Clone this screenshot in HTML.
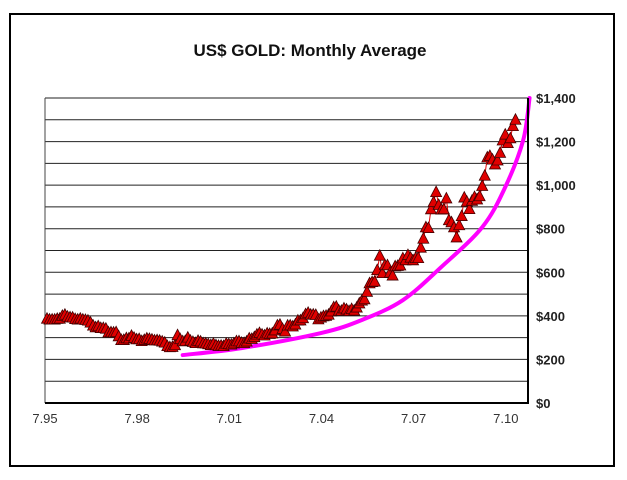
<!DOCTYPE html>
<html><head><meta charset="utf-8"><style>
body{margin:0;background:#fff;width:627px;height:480px;overflow:hidden;font-family:"Liberation Sans",Arial,sans-serif}
svg{display:block}
</style></head><body>
<svg width="627" height="480" xmlns="http://www.w3.org/2000/svg">
<rect x="10" y="14" width="604" height="452" fill="#fff" stroke="#000" stroke-width="2"/>
<text x="310" y="56" text-anchor="middle" font-size="17" font-weight="bold" fill="#111">US$ GOLD: Monthly Average</text>
<g id="grid"></g><g id="curve"></g><g id="series"></g><g id="axes"></g>
</svg>
<script>
const prices = [387,383,383,383,386,387,
400,405,396,393,392,385,383,387,383,381,378,369,
355,347,352,344,344,341,324,324,323,325,306,289,
289,297,296,308,299,292,293,284,289,296,294,291,
287,288,286,282,277,261,256,257,265,311,293,283,
284,300,286,280,275,285,282,274,273,270,266,272,
265,262,263,261,272,270,268,273,283,283,276,275,
282,296,294,302,314,321,314,310,319,317,319,333,
356,359,340,328,355,356,351,360,378,379,389,407,
414,405,406,404,384,392,398,400,405,420,439,442,
424,423,434,429,422,431,424,438,457,470,476,510,
549,555,557,610,676,596,633,632,598,585,627,629,
631,664,655,679,667,655,665,665,713,754,806,803,
889,922,968,909,888,889,939,839,829,806,760,816,
858,943,924,890,928,945,934,949,996,1043,1127,1134,
1117,1095,1113,1148,1205,1232,1193,1215,1271,1300];
const trendIdx = [53,76,107,123,139,154,170,179,186,188.5];
const trendVal = [220,252,321,381,472,624,807,991,1206,1400];
const xTickLabels = ["7.95","7.98","7.01","7.04","7.07","7.10"];
const yTicks = [0,200,400,600,800,1000,1200,1400];
const L=45,R=528,T=98,B=403,YMAX=1400,MW=2.56;
const xs=i=>L+2+i*MW, ys=v=>B-(v/YMAX)*(B-T);
const NS="http://www.w3.org/2000/svg";
function mk(tag,p,parent){const e=document.createElementNS(NS,tag);for(const k in p)e.setAttribute(k,p[k]);document.getElementById(parent).appendChild(e);return e;}
for(let v=100;v<=YMAX;v+=100){const g=mk('line',{x1:L,x2:R,y1:ys(v),y2:ys(v),stroke:'#222','stroke-width':1},'grid');

}
const lb=mk('line',{x1:L,x2:L,y1:T,y2:B,stroke:'#444','stroke-width':1},'grid');


const xa=mk('line',{x1:L,x2:R+1,y1:B,y2:B,stroke:'#000','stroke-width':2},'axes');


const ya=mk('line',{x1:R,x2:R,y1:T,y2:B+1,stroke:'#000','stroke-width':2},'axes');


yTicks.forEach(v=>{const t=mk('text',{x:R+8,y:ys(v)+5,'font-size':13,'font-weight':'bold',fill:'#222'},'axes');t.textContent='$'+v.toLocaleString('en-US');

});
xTickLabels.forEach((s,i)=>{const t=mk('text',{x:L+i*36*MW,y:423,'font-size':13,'text-anchor':'middle',fill:'#333'},'axes');t.textContent=s;

});
const pts=trendIdx.map((d,i)=>[xs(d),ys(trendVal[i])]);
let d='M'+pts[0][0]+','+pts[0][1];
for(let i=0;i<pts.length-1;i++){const p0=pts[Math.max(0,i-1)],p1=pts[i],p2=pts[i+1],p3=pts[Math.min(pts.length-1,i+2)];
d+=` C${p1[0]+(p2[0]-p0[0])/6},${p1[1]+(p2[1]-p0[1])/6} ${p2[0]-(p3[0]-p1[0])/6},${p2[1]-(p3[1]-p1[1])/6} ${p2[0]},${p2[1]}`;}
const c=mk('path',{d:d,fill:'none',stroke:'#ff00ff','stroke-width':4,'stroke-linecap':'round'},'curve');


const ln=mk('polyline',{points:prices.map((v,i)=>xs(i)+','+ys(v)).join(' '),fill:'none',stroke:'#e00000','stroke-width':1},'series');


prices.forEach((v,i)=>{const x=xs(i),y=ys(v);
const m=mk('polygon',{points:`${x-5.5},${y+4.5} ${x+5.5},${y+4.5} ${x},${y-6}`,fill:'#e00000',stroke:'#400','stroke-width':0.8},'series');

});
</script>
</body></html>
